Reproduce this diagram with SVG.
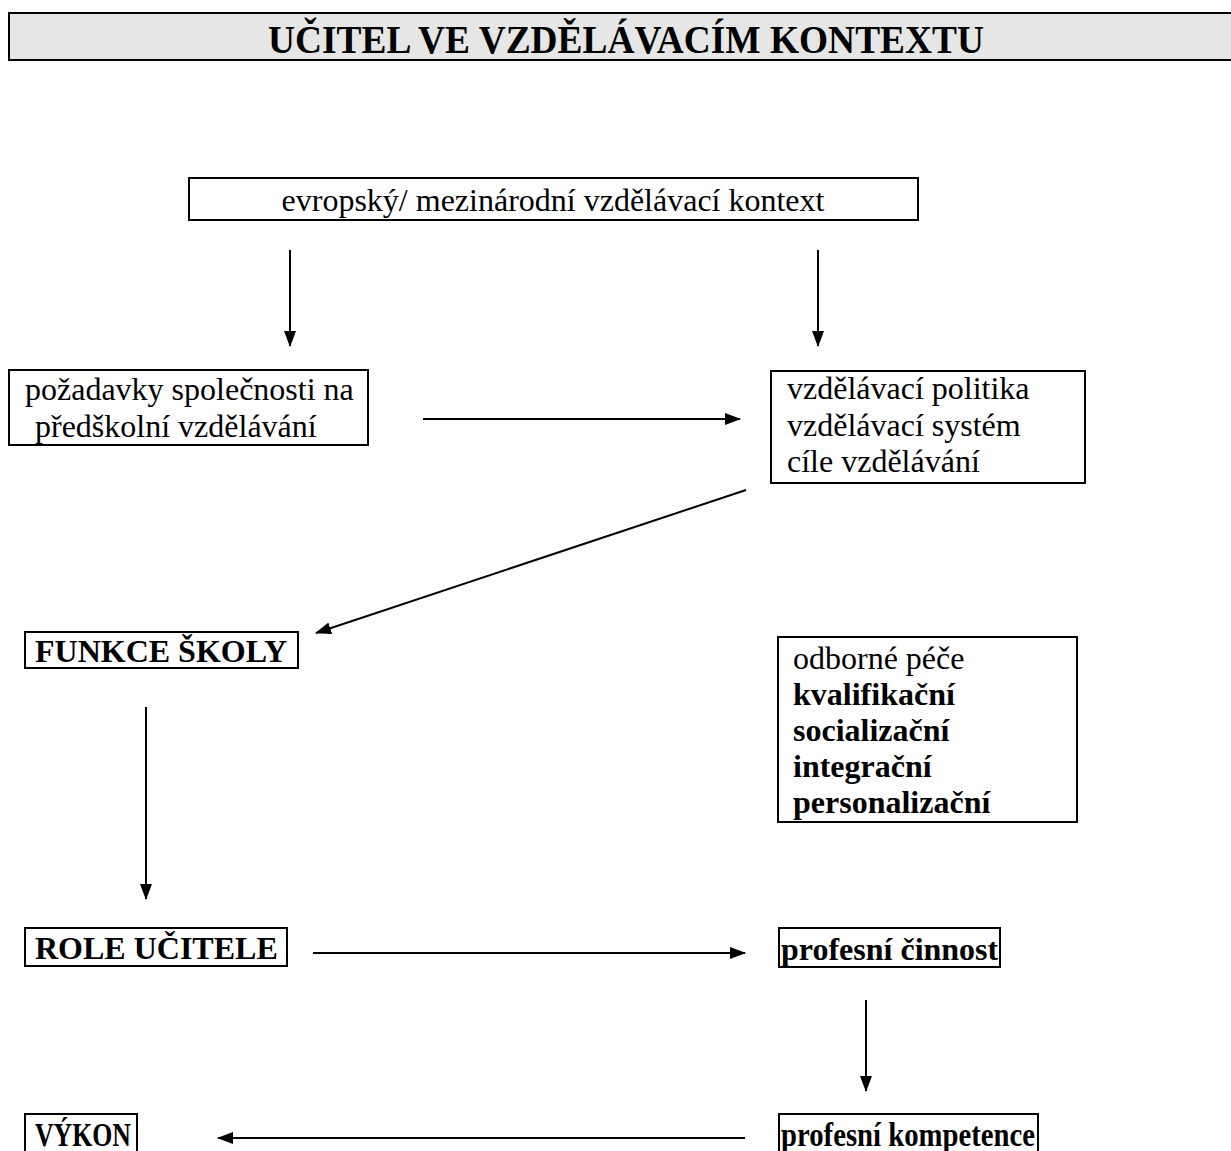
<svg xmlns="http://www.w3.org/2000/svg" width="1231" height="1151" viewBox="0 0 1231 1151">
<style>
.box{fill:#fff;stroke:#000;stroke-width:2}
.t{font-family:"Liberation Serif","Times New Roman",serif;font-size:32px;fill:#000}
.b{font-weight:bold}
.c{stroke:#000;stroke-width:2;fill:none}
</style>
<defs>
<marker id="ah" markerWidth="16" markerHeight="12" refX="15" refY="6" orient="auto" markerUnits="userSpaceOnUse">
<path d="M0,0 L16,6 L0,12 Z" fill="#000"/>
</marker>
</defs>
<rect width="1231" height="1151" fill="#fff"/>
<g id="title">
<rect x="9" y="13" width="1230" height="47" fill="#e6e6e6" stroke="#000" stroke-width="2"/>
<text x="268" y="53" class="t b" style="font-size:40px" textLength="716" lengthAdjust="spacingAndGlyphs">UČITEL VE VZDĚLÁVACÍM KONTEXTU</text>
</g>
<g id="evropsky">
<rect class="box" x="189" y="178" width="729" height="42"/>
<text class="t" x="553" y="211" text-anchor="middle">evropský/ mezinárodní vzdělávací kontext</text>
</g>
<g id="pozadavky">
<rect class="box" x="9" y="370" width="359" height="75"/>
<text class="t" x="25" y="400">požadavky společnosti na</text>
<text class="t" x="35" y="437">předškolní vzdělávání</text>
</g>
<g id="politika">
<rect class="box" x="771" y="371" width="314" height="112"/>
<text class="t" x="787" y="399">vzdělávací politika</text>
<text class="t" x="787" y="436">vzdělávací systém</text>
<text class="t" x="787" y="472">cíle vzdělávání</text>
</g>
<g id="funkce">
<rect class="box" x="25" y="632" width="273" height="36"/>
<text class="t b" x="35" y="662">FUNKCE ŠKOLY</text>
</g>
<g id="odborne">
<rect class="box" x="778" y="637" width="299" height="185"/>
<text class="t" x="793" y="669">odborné péče</text>
<text class="t b" x="793" y="705">kvalifikační</text>
<text class="t b" x="793" y="741">socializační</text>
<text class="t b" x="793" y="777">integrační</text>
<text class="t b" x="793" y="813">personalizační</text>
</g>
<g id="role">
<rect class="box" x="25" y="928" width="262" height="38"/>
<text class="t b" x="35" y="959">ROLE UČITELE</text>
</g>
<g id="cinnost">
<rect class="box" x="779" y="928" width="221" height="39"/>
<text class="t b" x="781" y="960">profesní činnost</text>
</g>
<g id="vykon">
<rect class="box" x="25" y="1114" width="112" height="40"/>
<text class="t b" x="35" y="1146" textLength="96" lengthAdjust="spacingAndGlyphs" style="font-size:34px">VÝKON</text>
</g>
<g id="kompetence">
<rect class="box" x="779" y="1114" width="259" height="40"/>
<text class="t b" x="781" y="1146" textLength="254" lengthAdjust="spacingAndGlyphs" style="font-size:34px">profesní kompetence</text>
</g>
<g id="connectors">
<line class="c" x1="290" y1="250" x2="290" y2="346" marker-end="url(#ah)"/>
<line class="c" x1="818" y1="250" x2="818" y2="346" marker-end="url(#ah)"/>
<line class="c" x1="423" y1="419" x2="740" y2="419" marker-end="url(#ah)"/>
<line class="c" x1="746" y1="490" x2="316" y2="633" marker-end="url(#ah)"/>
<line class="c" x1="146" y1="707" x2="146" y2="899" marker-end="url(#ah)"/>
<line class="c" x1="313" y1="953" x2="745" y2="953" marker-end="url(#ah)"/>
<line class="c" x1="866" y1="1000" x2="866" y2="1091" marker-end="url(#ah)"/>
<line class="c" x1="745" y1="1138" x2="218" y2="1138" marker-end="url(#ah)"/>
</g>
</svg>
